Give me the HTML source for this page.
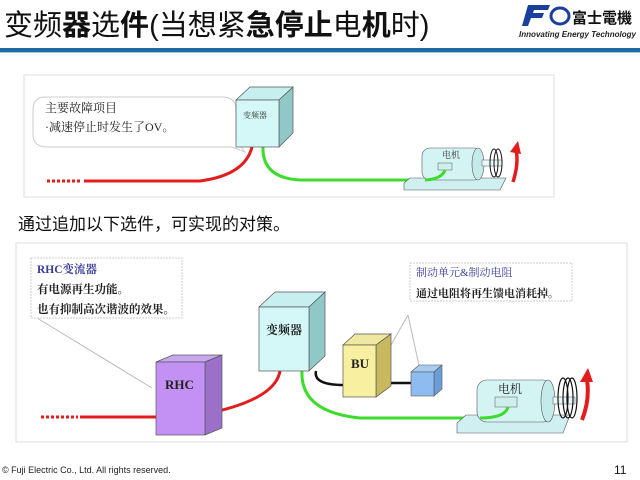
<!DOCTYPE html>
<html><head><meta charset="utf-8"><style>
html,body{margin:0;padding:0;background:#fff;width:640px;height:480px;overflow:hidden}
svg{display:block}
text{font-family:"Liberation Serif","Noto Serif CJK SC",serif}
.s{font-family:"Liberation Sans","Noto Sans CJK SC",sans-serif}
</style></head><body>
<svg width="640" height="480" viewBox="0 0 640 480" xmlns="http://www.w3.org/2000/svg">
<text x="4" y="35" class="s" font-size="29" fill="#111">变频<tspan font-weight="bold">器</tspan>选<tspan font-weight="bold">件</tspan>(当想紧<tspan font-weight="bold">急停止</tspan>电<tspan font-weight="bold">机</tspan>时)</text>
<g transform="translate(524,5)">
<path d="M4,0 h22 l-2,5 h-14 l-1,3 h11 l-2,5 h-11 l-3,8 h-6z" fill="#1a3f9c"/>
<ellipse cx="36" cy="11" rx="9" ry="8" fill="none" stroke="#1a3f9c" stroke-width="3"/>
<text x="48" y="18" class="s" font-size="15" font-weight="bold" fill="#111">富士電機</text>
<text x="-5" y="32" class="s" font-size="8.5" font-style="italic" font-weight="bold" fill="#222" textLength="117" lengthAdjust="spacingAndGlyphs">Innovating Energy Technology</text>
</g>
<rect x="0" y="48" width="640" height="4" fill="#1f6aa5"/>
<rect x="0" y="52" width="640" height="1" fill="#9cc"/>

<rect x="24" y="75" width="530" height="122" fill="#fff" stroke="#ddd"/>
<path d="M45,97 Q33,97 33,110 V135 Q33,147 48,147 H232 L245,152 L236,140 V110 Q236,97 222,97 Z" fill="#fff" stroke="#ccc"/>
<text x="45" y="112" font-size="12" fill="#222">主要故障项目</text>
<text x="45" y="131" font-size="12" fill="#222">·减速停止时发生了OV。</text>
<path d="M84,181 H200 Q245,175 252,147" fill="none" stroke="#e31c1c" stroke-width="3"/>
<path d="M47,181 H80" stroke="#e31c1c" stroke-width="3" stroke-dasharray="3,2"/>
<path d="M263,147 Q262,178 300,180 H425 Q440,178 445,170" fill="none" stroke="#3ddc2c" stroke-width="3"/>
<polygon points="236,100 250,87 293,87 279,100" fill="#c7efef" stroke="#555" stroke-width=".7"/>
<polygon points="279,100 293,87 293,133 279,147" fill="#90c8c8" stroke="#555" stroke-width=".7"/>
<rect x="236" y="100" width="43" height="47" fill="#d4f8f8" stroke="#555" stroke-width=".7"/>
<text x="243" y="118" font-size="8" fill="#333">变频器</text>
<polygon points="404,183 410,178 506,178 500,190 404,190" fill="#cfeff0" stroke="#555" stroke-width=".6"/>
<rect x="422" y="148" width="60" height="32" rx="8" fill="#d4f4f4" stroke="#555" stroke-width=".6"/>
<ellipse cx="478" cy="164" rx="6" ry="16" fill="#c5eaea" stroke="#555" stroke-width=".6"/>
<rect x="482" y="160" width="20" height="6" fill="#e8f8f8" stroke="#555" stroke-width=".5"/>
<ellipse cx="494" cy="163" rx="4" ry="14" fill="none" stroke="#111"/>
<ellipse cx="498" cy="163" rx="4" ry="14" fill="none" stroke="#111"/>
<rect x="438" y="163" width="14" height="7" fill="#cfeeee" stroke="#555" stroke-width=".5"/>
<path d="M425,180 Q442,179 445,170" fill="none" stroke="#3ddc2c" stroke-width="3"/>
<text x="442" y="158" font-size="9" fill="#333">电机</text>
<path d="M513,182 Q519,163 516,150" fill="none" stroke="#e31c1c" stroke-width="3.5"/>
<polygon points="510,152 518,141 521,154" fill="#e31c1c"/>

<text x="18" y="230" class="s" font-size="17" fill="#111">通过追加以下选件，可实现的对策。</text>

<rect x="16" y="243" width="611" height="199" fill="#fff" stroke="#ddd"/>
<line x1="37" y1="318" x2="152" y2="388" stroke="#bbb"/>
<rect x="31" y="258" width="151" height="60" fill="#fff" stroke="#ccc" stroke-dasharray="2,1"/>
<text x="37" y="273" font-size="11.5" font-weight="bold" fill="#3a3a9a">RHC变流器</text>
<text x="37" y="293" font-size="11.5" font-weight="bold" fill="#222">有电源再生功能。</text>
<text x="37" y="313" font-size="11.5" font-weight="bold" fill="#222">也有抑制高次谐波的效果。</text>
<path d="M408,315 L391,345 M408,315 L420,370" stroke="#bbb" fill="none"/>
<rect x="410" y="263" width="162" height="38" fill="#fff" stroke="#ccc" stroke-dasharray="2,1"/>
<text x="416" y="276" font-size="11" fill="#3a3a9a">制动单元&amp;制动电阻</text>
<text x="416" y="297" font-size="11" font-weight="bold" fill="#222">通过电阻将再生馈电消耗掉。</text>

<path d="M80,417 H158" stroke="#e31c1c" stroke-width="3"/>
<path d="M41,417 H78" stroke="#e31c1c" stroke-width="3" stroke-dasharray="3,2"/>
<path d="M205,414 Q275,400 280,371" fill="none" stroke="#e31c1c" stroke-width="3"/>
<path d="M302,371 Q300,412 360,418 H480 Q505,418 510,405" fill="none" stroke="#3ddc2c" stroke-width="3"/>
<path d="M316,371 Q313,385 344,385" fill="none" stroke="#111" stroke-width="2.5"/>
<path d="M376,383 H412" stroke="#111" stroke-width="2.5"/>

<polygon points="156,362 173,355 222,355 205,362" fill="#c9a6f0" stroke="#555" stroke-width=".7"/>
<polygon points="205,362 222,355 222,428 205,435" fill="#9a70c8" stroke="#555" stroke-width=".7"/>
<rect x="156" y="362" width="49" height="73" fill="#c291f3" stroke="#555" stroke-width=".7"/>
<text x="165" y="389" font-size="13" font-weight="bold" fill="#222">RHC</text>

<polygon points="259,307 275,292 325,292 309,307" fill="#c7efef" stroke="#555" stroke-width=".7"/>
<polygon points="309,307 325,292 325,356 309,371" fill="#90c8c8" stroke="#555" stroke-width=".7"/>
<rect x="259" y="307" width="50" height="64" fill="#d4f8f8" stroke="#555" stroke-width=".7"/>
<text x="266" y="334" font-size="12" font-weight="bold" fill="#222">变频器</text>

<polygon points="343,345 355,334 391,334 376,345" fill="#f0e8a0" stroke="#555" stroke-width=".7"/>
<polygon points="376,345 391,334 391,386 376,397" fill="#c8b860" stroke="#555" stroke-width=".7"/>
<rect x="343" y="345" width="33" height="52" fill="#f8f0a0" stroke="#555" stroke-width=".7"/>
<text x="351" y="368" font-size="13" font-weight="bold" fill="#222">BU</text>

<polygon points="411,372 419,365 442,365 434,372" fill="#a8ccf0" stroke="#555" stroke-width=".6"/>
<polygon points="434,372 442,365 442,389 434,396" fill="#6a9ed8" stroke="#555" stroke-width=".6"/>
<rect x="411" y="372" width="23" height="24" fill="#8ebcf0" stroke="#555" stroke-width=".6"/>

<polygon points="457,423 466,415 570,415 563,433 457,433" fill="#cfeff0" stroke="#555" stroke-width=".6"/>
<rect x="477" y="380" width="76" height="42" rx="10" fill="#d4f4f4" stroke="#555" stroke-width=".6"/>
<ellipse cx="548" cy="401" rx="7" ry="21" fill="#c5eaea" stroke="#555" stroke-width=".6"/>
<rect x="553" y="397" width="22" height="7" fill="#e8f8f8" stroke="#555" stroke-width=".5"/>
<ellipse cx="563" cy="398" rx="5" ry="20" fill="none" stroke="#111" stroke-width="1.2"/>
<ellipse cx="568" cy="398" rx="5" ry="20" fill="none" stroke="#111" stroke-width="1.2"/>
<ellipse cx="572" cy="398" rx="5" ry="20" fill="none" stroke="#111" stroke-width="1.2"/>
<rect x="495" y="397" width="22" height="10" fill="#cfeeee" stroke="#555" stroke-width=".5"/>
<path d="M480,418 Q505,418 508,407" fill="none" stroke="#3ddc2c" stroke-width="3"/>
<text x="498" y="393" font-size="12" fill="#222">电机</text>
<path d="M582,420 Q590,400 587,380" fill="none" stroke="#e31c1c" stroke-width="4"/>
<polygon points="580,382 588,368 593,382" fill="#e31c1c"/>

<text x="2" y="473" class="s" font-size="9" fill="#222">© Fuji Electric Co., Ltd. All rights reserved.</text>
<text x="614" y="474" class="s" font-size="12" fill="#111">11</text>
</svg>
</body></html>
